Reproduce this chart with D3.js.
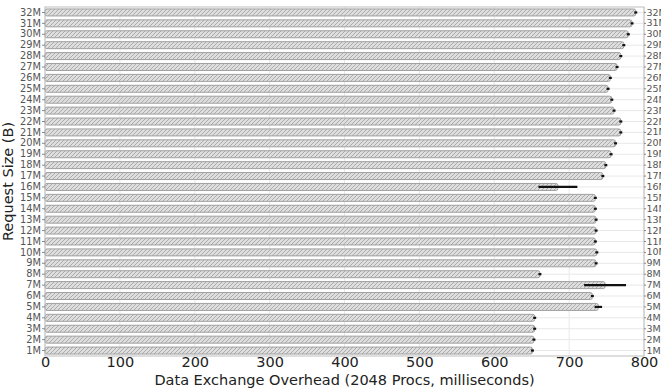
<!DOCTYPE html>
<html>
<head>
<meta charset="utf-8">
<script src="https://cdn.jsdelivr.net/npm/d3@7"></script>
<style>
  body { margin: 0; background: #fff; }
  text { font-family: "DejaVu Sans", sans-serif; }
</style>
</head>
<body>
<div id="vis"></div>
<script>
// request sizes, bottom to top
var sizes = ["1M","2M","3M","4M","5M","6M","7M","8M","9M","10M","11M","12M","13M","14M","15M","16M",
             "17M","18M","19M","20M","21M","22M","23M","24M","25M","26M","27M","28M","29M","30M","31M","32M"];
// mean overhead (ms)
var overhead = [651, 653, 654, 654, 739, 731, 748, 661, 736, 737, 735, 736, 736, 735, 735, 685,
                745, 749, 756, 762, 769, 769, 760, 757, 752, 755, 764, 769, 773, 779, 784, 789];
// error (+/- ms)
var errs = [2, 2, 2, 2, 5, 2, 28, 2, 2, 2, 2, 2, 2, 2, 2, 26,
            2, 2, 2, 2, 2, 2, 2, 2, 2, 2, 2, 2, 2, 2, 2, 2];
var xTicks = [0, 100, 200, 300, 400, 500, 600, 700, 800];

var dataset = sizes.map(function(s, i) {
  return { size: s, v: overhead[i], e: errs[i] };
});

var w = 661, h = 389;
var m = { left: 45, right: 17, top: 7, bottom: 33 };

var svg = d3.select("#vis").append("svg")
  .attr("width", w)
  .attr("height", h);

var defs = svg.append("defs");
var pat = defs.append("pattern")
  .attr("id", "hatch")
  .attr("patternUnits", "userSpaceOnUse")
  .attr("width", 4)
  .attr("height", 4);
pat.append("rect").attr("width", 4).attr("height", 4).attr("fill", "#dedede");
pat.append("path")
  .attr("d", "M-1,1 l2,-2 M0,4 l4,-4 M3,5 l2,-2")
  .attr("stroke", "#a6a6a6")
  .attr("stroke-width", 0.9);

var x = d3.scaleLinear()
  .domain([0, 800])
  .range([m.left, w - m.right]);

var y = d3.scaleBand()
  .domain(sizes.slice().reverse())
  .range([m.top, h - m.bottom])
  .paddingInner(0.36)
  .paddingOuter(0.18);

var plotTop = m.top, plotBottom = h - m.bottom;

// grid
svg.append("g")
  .selectAll("line.vg")
  .data(xTicks)
  .enter()
  .append("line")
  .attr("x1", function(d) { return x(d); })
  .attr("x2", function(d) { return x(d); })
  .attr("y1", plotTop)
  .attr("y2", plotBottom)
  .attr("stroke", "#e8e8e8")
  .attr("stroke-width", 1);

svg.append("g")
  .selectAll("line.hg")
  .data(sizes)
  .enter()
  .append("line")
  .attr("x1", x(0))
  .attr("x2", x(800))
  .attr("y1", function(d) { return y(d) + y.bandwidth() / 2; })
  .attr("y2", function(d) { return y(d) + y.bandwidth() / 2; })
  .attr("stroke", "#e8e8e8")
  .attr("stroke-width", 1);

// bars
svg.append("g")
  .selectAll("rect")
  .data(dataset)
  .enter()
  .append("rect")
  .attr("x", x(0))
  .attr("y", function(d) { return y(d.size); })
  .attr("width", function(d) { return x(d.v) - x(0); })
  .attr("height", y.bandwidth())
  .attr("rx", 2)
  .attr("fill", "url(#hatch)")
  .attr("stroke", "#a0a0a0")
  .attr("stroke-width", 1);

// error bars
svg.append("g")
  .selectAll("line")
  .data(dataset)
  .enter()
  .append("line")
  .attr("x1", function(d) { return x(d.v - d.e); })
  .attr("x2", function(d) { return x(d.v + d.e); })
  .attr("y1", function(d) { return y(d.size) + y.bandwidth() / 2; })
  .attr("y2", function(d) { return y(d.size) + y.bandwidth() / 2; })
  .attr("stroke", "#111")
  .attr("stroke-width", 2.2);

// frame
svg.append("rect")
  .attr("x", x(0))
  .attr("y", plotTop)
  .attr("width", x(800) - x(0))
  .attr("height", plotBottom - plotTop)
  .attr("fill", "none")
  .attr("stroke", "#bdbdbd")
  .attr("stroke-width", 1);

// axes
var xAxis = svg.append("g")
  .attr("transform", "translate(0," + plotBottom + ")")
  .call(d3.axisBottom(x).tickValues(xTicks).tickSize(0).tickPadding(1));
xAxis.select(".domain").remove();
xAxis.selectAll("text")
  .attr("font-size", 14.5)
  .attr("fill", "#222")
  .style("font-family", "DejaVu Sans, sans-serif");

var yAxis = svg.append("g")
  .attr("transform", "translate(" + x(0) + ",0)")
  .call(d3.axisLeft(y).tickSize(3).tickPadding(1));
yAxis.select(".domain").remove();
yAxis.selectAll("line").attr("stroke", "#888");
yAxis.selectAll("text")
  .attr("font-size", 9.8)
  .attr("fill", "#555")
  .style("font-family", "DejaVu Sans, sans-serif");

var yAxisR = svg.append("g")
  .attr("transform", "translate(" + x(800) + ",0)")
  .call(d3.axisRight(y).tickSize(2).tickPadding(0.5));
yAxisR.select(".domain").remove();
yAxisR.selectAll("line").attr("stroke", "#888");
yAxisR.selectAll("text")
  .attr("font-size", 9.5)
  .attr("fill", "#555")
  .style("font-family", "DejaVu Sans, sans-serif");

// labels
svg.append("text")
  .attr("x", (x(0) + x(800)) / 2)
  .attr("y", 385)
  .attr("text-anchor", "middle")
  .attr("font-size", 14.5)
  .attr("fill", "#222")
  .text("Data Exchange Overhead (2048 Procs, milliseconds)");

svg.append("text")
  .attr("transform", "translate(13," + (plotTop + plotBottom) / 2 + ") rotate(-90)")
  .attr("text-anchor", "middle")
  .attr("font-size", 14.5)
  .attr("fill", "#222")
  .text("Request Size (B)");
</script>
</body>
</html>
